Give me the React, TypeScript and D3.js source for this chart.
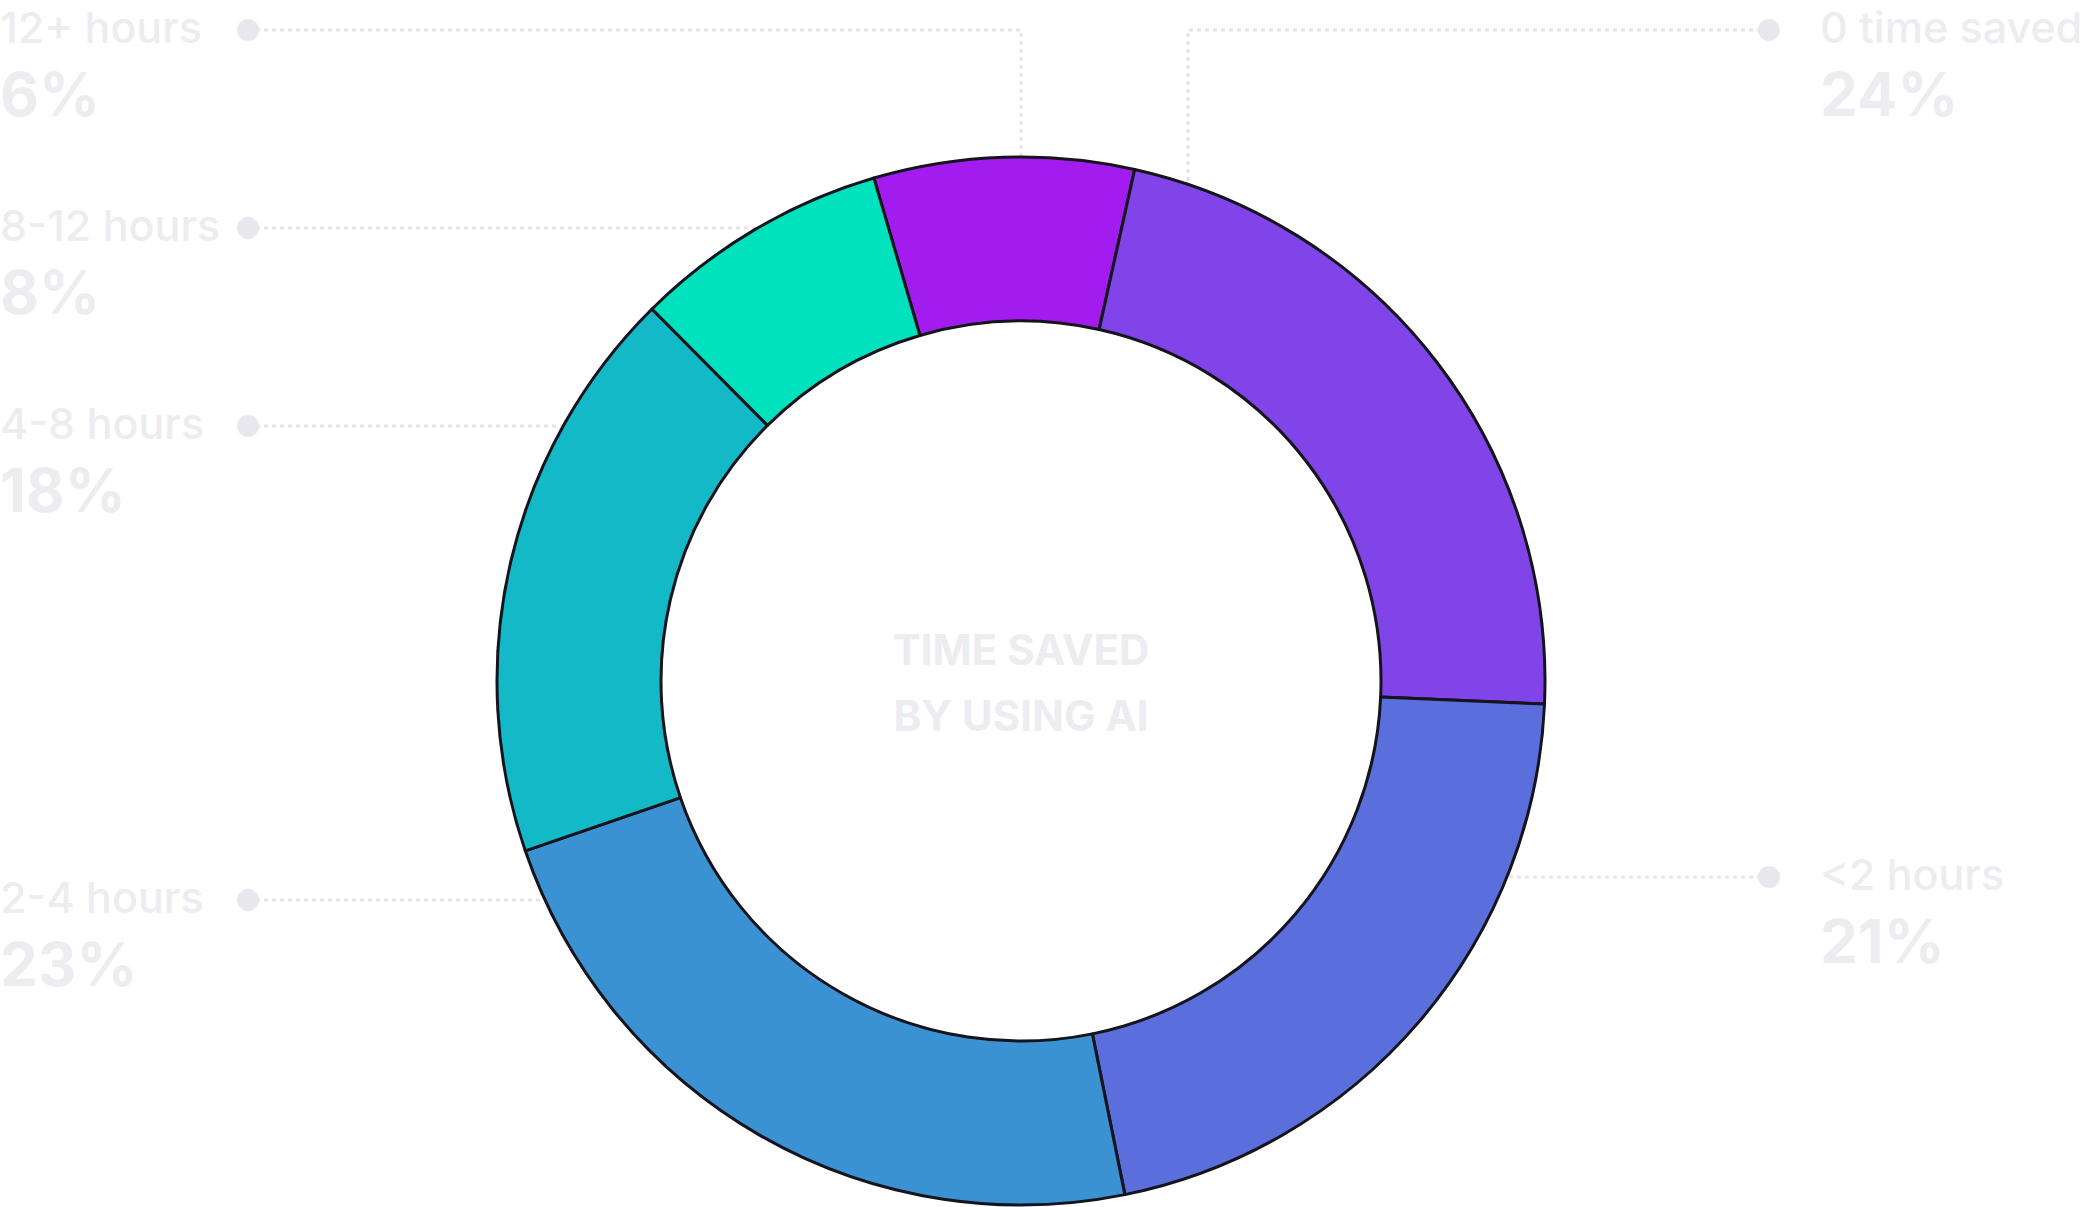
import React from 'react';
import * as d3 from 'd3';

// categories in clockwise order, starting with the slice that crosses 12 o'clock
const categories = ['12+ hours', '0 time saved', '<2 hours', '2-4 hours', '4-8 hours', '8-12 hours'];
const percentLabels = ['6%', '24%', '21%', '23%', '18%', '8%'];
// arc shares as they are drawn (the printed labels differ a little)
const arcShares = [8.0, 22.2, 21.1, 22.9, 17.8, 7.9];
const sliceColors = ['#a21cf0', '#8044e8', '#5a6edc', '#3a92d2', '#13b9c6', '#00e2bd'];
const centerTitle = ['TIME SAVED', 'BY USING AI'];

const W = 2092;
const H = 1207;
const cx = 1021;
const cy = 681;
const outerR = 524;
const innerR = 360;
const startDeg = -16.3;

const LABEL_COLOR = '#edecf1';
const LINE_COLOR = '#e4e3e9';
const DOT_COLOR = '#e8e7ed';

// where each callout sits: side of the chart, dot height, optional elbow
const callouts: { side: 'left' | 'right'; y: number; elbowX?: number }[] = [
  { side: 'left', y: 30, elbowX: cx },
  { side: 'right', y: 30, elbowX: 1188 },
  { side: 'right', y: 877 },
  { side: 'left', y: 900 },
  { side: 'left', y: 426 },
  { side: 'left', y: 228 },
];

const dotX = { left: 248, right: 1769 };
const textX = { left: 0, right: 1820 };

export default function App() {
  const start = (startDeg * Math.PI) / 180;
  const pie = d3
    .pie<number>()
    .sort(null)
    .value((d) => d)
    .startAngle(start)
    .endAngle(start + 2 * Math.PI);
  const arcs = pie(arcShares);
  const arc = d3.arc<d3.PieArcDatum<number>>().innerRadius(innerR).outerRadius(outerR);

  // leader line from dot to the donut's outer edge
  const leaderPath = (c: (typeof callouts)[number]) => {
    const x0 = dotX[c.side];
    if (c.elbowX !== undefined) {
      const dx = c.elbowX - cx;
      const ey = cy - Math.sqrt(outerR * outerR - dx * dx);
      return `M${x0},${c.y}H${c.elbowX}V${ey}`;
    }
    const dy = c.y - cy;
    const half = Math.sqrt(outerR * outerR - dy * dy);
    const ex = c.side === 'left' ? cx - half : cx + half;
    return `M${x0},${c.y}H${ex}`;
  };

  return (
    <svg
      width={W}
      height={H}
      style={{ position: 'absolute', left: 0, top: 0, display: 'block', background: '#fff' }}
      fontFamily="Inter, 'Noto Sans', sans-serif"
    >
      {/* leader lines sit under the donut */}
      <g>
        {callouts.map((c, i) => (
          <path
            key={'l' + i}
            d={leaderPath(c)}
            fill="none"
            stroke={LINE_COLOR}
            strokeWidth={3}
            strokeDasharray="4 4"
          />
        ))}
      </g>

      <g transform={`translate(${cx},${cy})`}>
        {arcs.map((a, i) => (
          <path
            key={'s' + i}
            d={arc(a) || ''}
            fill={sliceColors[i]}
            stroke="#15131c"
            strokeWidth={3}
            strokeLinejoin="round"
          />
        ))}
        {centerTitle.map((t, i) => (
          <text
            key={'c' + i}
            x={0}
            y={-16 + i * 66}
            textAnchor="middle"
            fontSize={42}
            fontWeight={700}
            fill={LABEL_COLOR}
          >
            {t}
          </text>
        ))}
      </g>

      {callouts.map((c, i) => (
        <g key={'t' + i}>
          <circle cx={dotX[c.side]} cy={c.y} r={11} fill={DOT_COLOR} />
          <text x={textX[c.side]} y={c.y + 13} fontSize={43} fontWeight={500} fill={LABEL_COLOR}>
            {categories[i]}
          </text>
          <text x={textX[c.side]} y={c.y + 86} fontSize={60} fontWeight={700} fill={LABEL_COLOR}>
            {percentLabels[i]}
          </text>
        </g>
      ))}
    </svg>
  );
}
